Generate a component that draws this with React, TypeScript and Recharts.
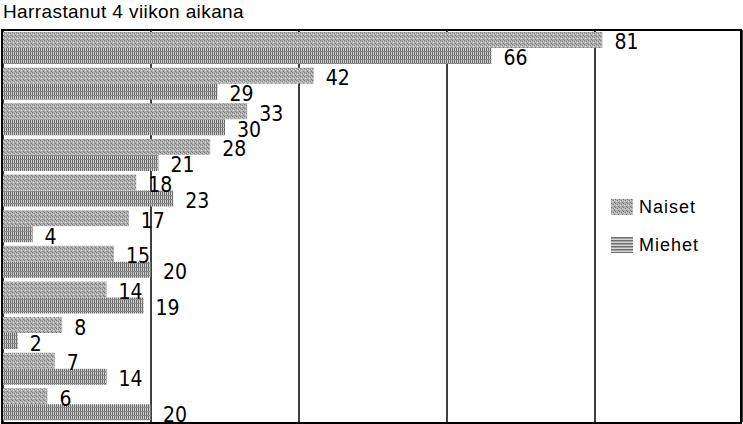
import { BarChart, Bar, XAxis, YAxis, CartesianGrid, LabelList, Legend } from "recharts";

// Harrastanut 4 viikon aikana (%), naiset vs. miehet
const categories = ["1", "2", "3", "4", "5", "6", "7", "8", "9", "10", "11"];
const naiset = [81, 42, 33, 28, 18, 17, 15, 14, 8, 7, 6];
const miehet = [66, 29, 30, 21, 23, 4, 20, 19, 2, 14, 20];
const xTicks = [0, 20, 40, 60, 80, 100];

const data = categories.map((name, i) => ({
  name,
  Naiset: naiset[i],
  Miehet: miehet[i],
}));

const FONT = "'Liberation Sans', Arial, sans-serif";
const NARROW = "'Liberation Sans Narrow', 'DejaVu Sans Condensed', sans-serif";

function LegendBox() {
  const items = [
    { label: "Naiset", fill: "url(#patNaiset)" },
    { label: "Miehet", fill: "url(#patMiehetH)" },
  ];
  return (
    <div style={{ fontFamily: FONT, fontSize: 18, letterSpacing: 1, color: "#000" }}>
      {items.map((it) => (
        <div key={it.label} style={{ display: "flex", alignItems: "center", height: 38 }}>
          <svg width={22} height={16} style={{ marginRight: 6 }}>
            <rect width={22} height={16} fill={it.fill} />
          </svg>
          <span>{it.label}</span>
        </div>
      ))}
    </div>
  );
}

export default function App() {
  return (
    <div style={{ position: "absolute", left: 0, top: 0, width: 743, height: 424, background: "#fff" }}>
      <svg width={0} height={0} style={{ position: "absolute" }}>
        <defs>
          <pattern id="patNaiset" width={4} height={4} patternUnits="userSpaceOnUse">
            <rect width={4} height={4} fill="#b0b0b0" />
            <rect x={0} y={0} width={1} height={1} fill="#767676" />
            <rect x={2} y={1} width={1} height={1} fill="#848484" />
            <rect x={1} y={2} width={1} height={1} fill="#d8d8d8" />
            <rect x={3} y={3} width={1} height={1} fill="#7a7a7a" />
            <rect x={3} y={1} width={1} height={1} fill="#d0d0d0" />
          </pattern>
          <pattern id="patMiehet" width={2} height={4} patternUnits="userSpaceOnUse">
            <rect width={2} height={4} fill="#d0d0d0" />
            <rect x={0} width={1} height={4} fill="#6a6a6a" />
            <rect x={0} y={3} width={2} height={1} fill="#8a8a8a" />
          </pattern>
          <pattern id="patMiehetH" width={4} height={3} patternUnits="userSpaceOnUse">
            <rect width={4} height={3} fill="#d6d6d6" />
            <rect y={0} width={4} height={1.5} fill="#6e6e6e" />
          </pattern>
        </defs>
      </svg>
      <div
        style={{
          position: "absolute",
          left: 3,
          top: 1,
          fontFamily: FONT,
          fontSize: 19,
          letterSpacing: 0.4,
          color: "#000",
          whiteSpace: "nowrap",
        }}
      >
        Harrastanut 4 viikon aikana
      </div>
      <BarChart
        width={743}
        height={424}
        data={data}
        layout="vertical"
        margin={{ top: 30, right: 0, bottom: 2, left: 3 }}
        barCategoryGap={2}
        barGap={0}
      >
        <CartesianGrid horizontal={false} stroke="#000" strokeWidth={1.5} />
        <XAxis type="number" domain={[0, 100]} ticks={xTicks} hide />
        <YAxis type="category" dataKey="name" hide />
        <Legend
          layout="horizontal"
          verticalAlign="middle"
          align="center"
          content={() => <LegendBox />}
          wrapperStyle={{ left: 611, top: 188, width: 125, height: 80 }}
        />
        <Bar dataKey="Naiset" fill="url(#patNaiset)" isAnimationActive={false}>
          <LabelList dataKey="Naiset" position="right" offset={12} dy={2} fill="#000" fontSize={21} fontFamily={NARROW} />
        </Bar>
        <Bar dataKey="Miehet" fill="url(#patMiehet)" isAnimationActive={false}>
          <LabelList dataKey="Miehet" position="right" offset={12} dy={2} fill="#000" fontSize={21} fontFamily={NARROW} />
        </Bar>
      </BarChart>
      <div
        style={{
          position: "absolute",
          left: 1,
          top: 29,
          width: 737,
          height: 391,
          border: "2px solid #000",
          pointerEvents: "none",
        }}
      />
    </div>
  );
}
